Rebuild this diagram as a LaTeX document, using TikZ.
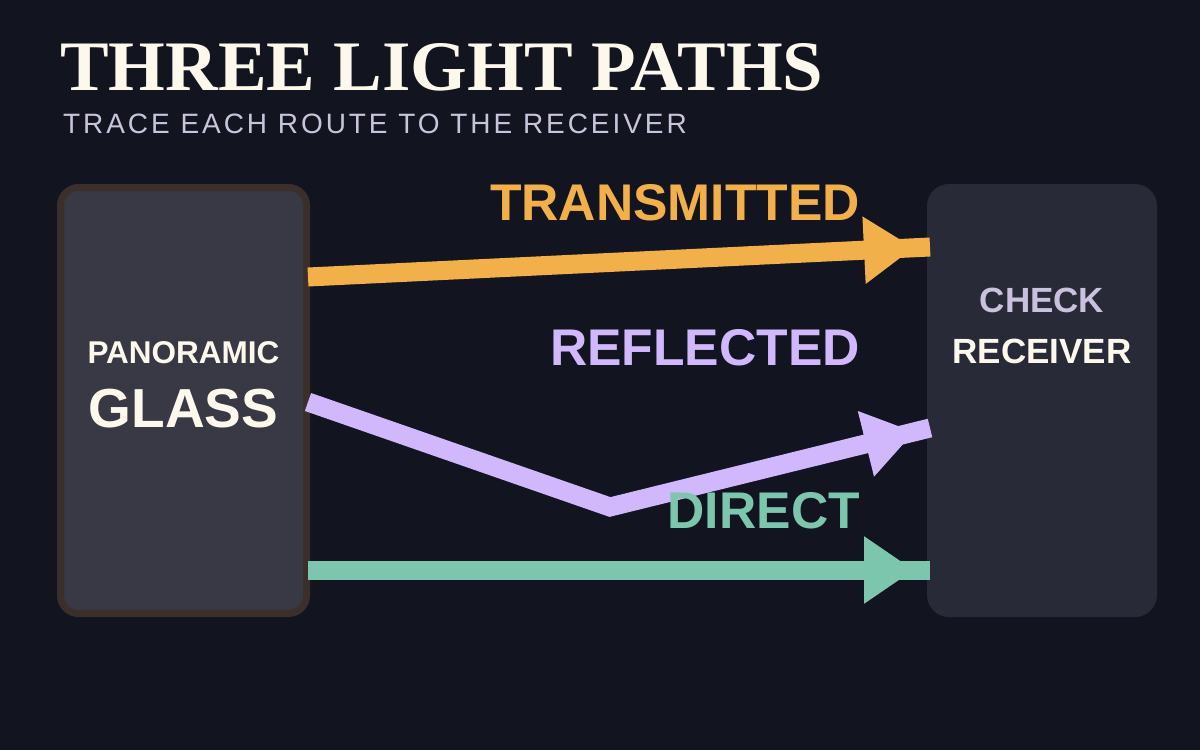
\documentclass[tikz,border=0pt]{standalone}
\usepackage{fontspec}
\setmainfont{Liberation Serif}
\setsansfont{Liberation Sans}
\newfontfamily\subfont[LetterSpace=10.5]{Liberation Sans}
\usetikzlibrary{arrows.meta,decorations.markings}
\definecolor{bgc}{HTML}{12141F}
\definecolor{glassfill}{HTML}{383945}
\definecolor{glassedge}{HTML}{3B3029}
\definecolor{recfill}{HTML}{282A38}
\definecolor{cream}{HTML}{FDF8EC}
\definecolor{subc}{HTML}{C8C4DC}
\definecolor{checkc}{HTML}{C9C1DE}
\definecolor{orangec}{HTML}{F2B04B}
\definecolor{lavc}{HTML}{D1B8FD}
\definecolor{tealc}{HTML}{7CC6AE}
\tikzset{
  beam/.style={line width=19pt, draw=#1,
    decoration={markings, mark=at position -16pt with {\arrow[#1]{Triangle[length=50pt,width=64pt]}}},
    postaction={decorate}},
  lbl/.style={anchor=base east, font=\sffamily\bfseries\fontsize{51.6}{60}\selectfont, inner sep=0pt},
}
\begin{document}
\begin{tikzpicture}[x=1pt,y=-1pt]
\fill[bgc] (0,0) rectangle (1200,750);
\useasboundingbox (0,0) rectangle (1200,750);
% title
\node (title) [anchor=base west, inner sep=0pt, text=cream, font=\bfseries\fontsize{71}{74}\selectfont] at (60,90) {\scalebox{1.027}[1]{THREE LIGHT PATHS}};
\node (sub) [anchor=base west, inner sep=0pt, text=subc, font=\subfont\fontsize{28}{32}\selectfont] at (63,133) {TRACE EACH ROUTE TO THE RECEIVER};
% boxes
\node (glass) [draw=glassedge, line width=7pt, fill=glassfill, rounded corners=18pt, minimum width=246pt, minimum height=426pt, inner sep=0pt] at (183.5,400.5) {};
\node (rec) [fill=recfill, rounded corners=22pt, minimum width=230pt, minimum height=433pt, inner sep=0pt] at (1042,400.5) {};
\node (pan) [anchor=base, inner sep=0pt, text=cream, font=\sffamily\bfseries\fontsize{31.5}{34}\selectfont] at (183.5,363) {PANORAMIC};
\node (gl) [anchor=base, inner sep=0pt, text=cream, font=\sffamily\bfseries\fontsize{55}{60}\selectfont] at (183.5,427) {GLASS};
\node (chk) [anchor=base, inner sep=0pt, text=checkc, font=\sffamily\bfseries\fontsize{35}{40}\selectfont] at (1042,312) {CHECK};
\node (rcv) [anchor=base, inner sep=0pt, text=cream, font=\sffamily\bfseries\fontsize{35}{40}\selectfont] at (1042,363) {RECEIVER};
% connector endpoints
\coordinate (t1) at (308,277);
\coordinate (t2) at (930,247);
\coordinate (r1) at (308,402);
\coordinate (rb) at (610,507);
\coordinate (r2) at (930,428);
\coordinate (d1) at (308,570);
\coordinate (d2) at (930,570);
% beams
\draw[beam=orangec] (t1) -- (t2);
\draw[beam=lavc] (r1) -- (rb) -- (r2);
\draw[beam=tealc] (d1) -- (d2);
% labels
\node (lt) [lbl, text=orangec] at (860,220) {TRANSMITTED};
\node (lr) [lbl, text=lavc] at (860,365) {REFLECTED};
\node (ld) [lbl, text=tealc] at (860,528) {DIRECT};
\end{tikzpicture}
\end{document}
